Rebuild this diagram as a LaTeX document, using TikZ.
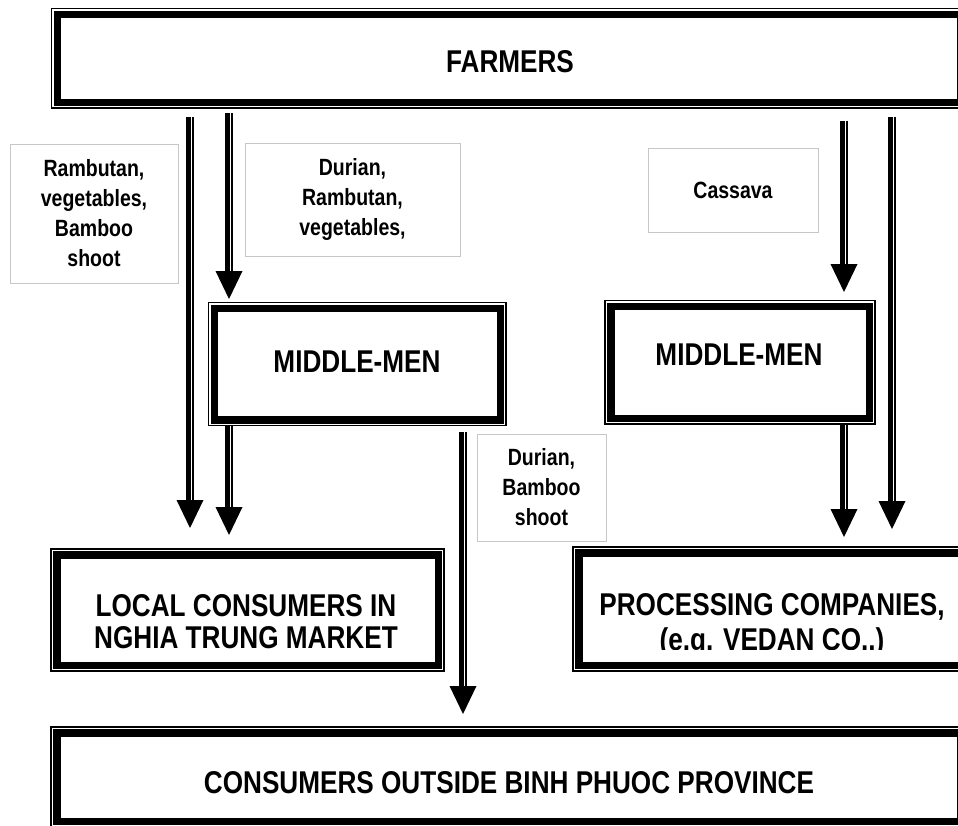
\documentclass[tikz,border=0pt]{standalone}
\usepackage{fontspec}
\setmainfont{Liberation Sans}[FakeStretch=0.83]
\usetikzlibrary{calc}
\tikzset{
  frame/.style={draw=black, line width=1.2pt, rectangle, inner sep=0pt, outer sep=0pt},
  thickrule/.style={line width=7.5pt, draw=black},
  tagbox/.style={draw=black!22, line width=1pt, rectangle, inner sep=0pt, outer sep=0pt, align=center, font=\fontsize{23.5}{30}\selectfont\bfseries},
  bigtext/.style={inner sep=0pt, align=center, font=\fontsize{31.5}{32}\selectfont\bfseries},
  shaftA/.style={line width=5pt, draw=black},
  shaftB/.style={line width=2pt, draw=black},
}
\newcommand{\innerframe}[1]{\draw[thickrule] ($(#1.north west)+(5.75,5.75)$) rectangle ($(#1.south east)+(-5.75,-5.75)$);}
\newcommand{\dblarrow}[2]{%
  \draw[shaftA] ($(#1)+(-2,0)$) -- ($(#2)+(-2,-27)$);
  \draw[shaftB] ($(#1)+(3,0)$) -- ($(#2)+(3,-27)$);
  \fill[black] ($(#2)+(-13.5,-28)$) -- (#2) -- ($(#2)+(13.5,-28)$) -- cycle;}
\begin{document}
\begin{tikzpicture}[x=1pt,y=-1pt]
\useasboundingbox (0,0) rectangle (958,825);
\clip (0,0) rectangle (958,825);
\fill[white] (0,0) rectangle (958,825);
% main frames
\node[frame, minimum width=914.5pt, minimum height=99.5pt] (farmers) at (508.75,58.25) {};
\node[frame, minimum width=297.5pt, minimum height=123pt] (midL) at (357.25,364) {};
\node[frame, minimum width=270pt, minimum height=123.5pt] (midR) at (740,362.25) {};
\node[frame, minimum width=393pt, minimum height=122pt] (local) at (247.5,610) {};
\node[frame, minimum width=397pt, minimum height=124pt] (proc) at (771.5,609) {};
\node[frame, minimum width=915pt, minimum height=100pt] (outside) at (508.5,777) {};
\innerframe{farmers}
\innerframe{midL}
\innerframe{midR}
\innerframe{local}
\innerframe{proc}
\innerframe{outside}
% texts
\node[bigtext] (tFarmers) at (510,62) {FARMERS};
\node[bigtext] (tMidL) at (357,362) {MIDDLE-MEN};
\node[bigtext] (tMidR) at (739,355) {MIDDLE-MEN};
\node[bigtext] (tLocal) at (246,622) {LOCAL CONSUMERS IN\\NGHIA TRUNG MARKET};
\begin{scope}
  \clip (580,556) rectangle (962,649);
  \node[bigtext, font=\fontsize{31.5}{35}\selectfont\bfseries] (tProc) at (772,625) {PROCESSING COMPANIES,\\(e.g. VEDAN CO..)};
\end{scope}
\node[bigtext] (tOut) at (509,782.5) {CONSUMERS OUTSIDE BINH PHUOC PROVINCE};
% product tags
\node[tagbox, minimum width=168pt, minimum height=139pt] (tag1) at (94,213.5) {Rambutan,\\vegetables,\\Bamboo\\shoot};
\node[tagbox, minimum width=215pt, minimum height=113pt] (tag2) at (352.5,199.5) {Durian,\\Rambutan,\\vegetables,};
\node[tagbox, minimum width=170pt, minimum height=84pt] (tag3) at (733,190) {Cassava};
\node[tagbox, minimum width=129pt, minimum height=107pt] (tag4) at (541.5,487.5) {Durian,\\Bamboo\\shoot};
% arrow end points
\coordinate (a1s) at (190,117); \coordinate (a1e) at (190,528);
\coordinate (a2s) at (229,113); \coordinate (a2e) at (229,299);
\coordinate (a3s) at (229,425); \coordinate (a3e) at (229,535);
\coordinate (a4s) at (463,432); \coordinate (a4e) at (463,714);
\coordinate (a5s) at (844,121); \coordinate (a5e) at (844,292);
\coordinate (a6s) at (892,117); \coordinate (a6e) at (892,529);
\coordinate (a7s) at (844,425); \coordinate (a7e) at (844,537);
\dblarrow{a1s}{a1e}
\dblarrow{a2s}{a2e}
\dblarrow{a3s}{a3e}
\dblarrow{a4s}{a4e}
\dblarrow{a5s}{a5e}
\dblarrow{a6s}{a6e}
\dblarrow{a7s}{a7e}
\end{tikzpicture}
\end{document}
